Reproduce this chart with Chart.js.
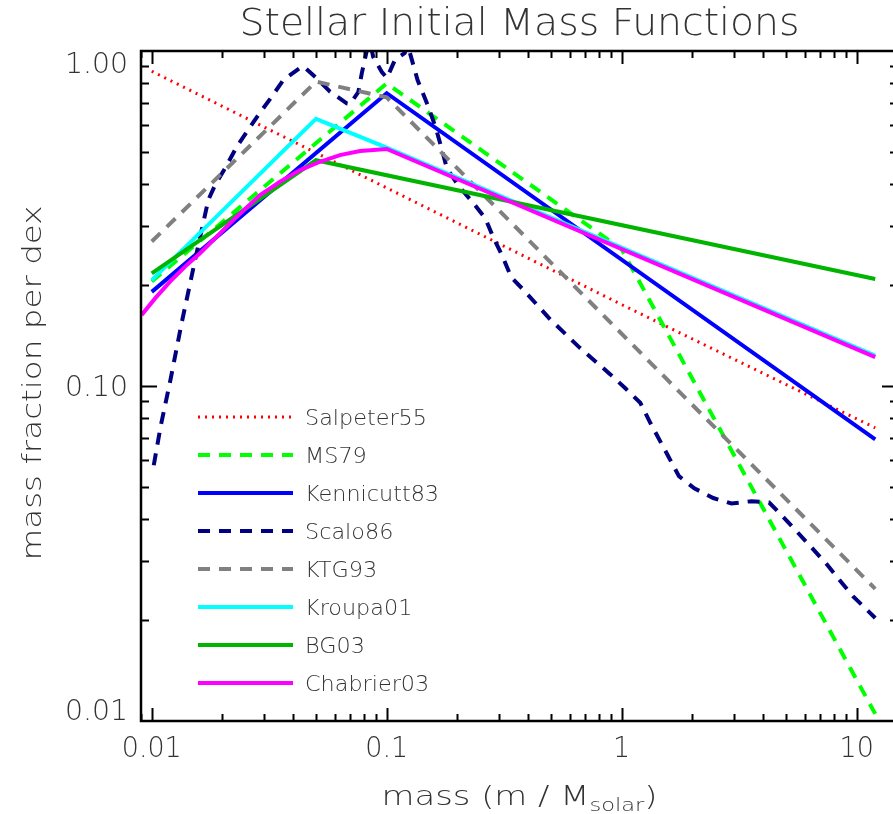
<!DOCTYPE html>
<html>
<head>
<meta charset="utf-8">
<script src="https://cdn.jsdelivr.net/npm/chart.js@4.4.0/dist/chart.umd.min.js"></script>
<style>
html, body { margin: 0; padding: 0; background: #fff; overflow: hidden; }
#contenitore { width: 905px; height: 814px; }
</style>
</head>
<body>
<div id="contenitore"><canvas id="grafico" width="905" height="814"></canvas></div>
<script>
// masse in masse solari, valori = frazione di massa per dex
var salpeterMass = [0.01, 1, 12];
var salpeterFrac = [0.87, 0.175, 0.075];

var ms79Mass = [0.01, 0.1, 1, 12];
var ms79Frac = [0.205, 0.80, 0.256, 0.0105];

var kennicuttMass = [0.01, 0.1, 12];
var kennicuttFrac = [0.191, 0.748, 0.0693];

var scaloMass = [0.0102, 0.0109, 0.0120, 0.0134, 0.0153, 0.0174, 0.0186, 0.0209, 0.0230, 0.0254,
    0.0284, 0.0324, 0.0363, 0.0428, 0.0442, 0.0503, 0.0574, 0.0676, 0.0698, 0.0757,
    0.0784, 0.0822, 0.085, 0.0876, 0.0952, 0.1002, 0.1084, 0.1193, 0.122, 0.1254,
    0.1353, 0.1494, 0.1618, 0.172, 0.1802, 0.201, 0.2334, 0.2627, 0.2841, 0.3125,
    0.339, 0.381, 0.4967, 0.6638, 0.8924, 1.034, 1.2, 1.327, 1.589, 1.753,
    2.037, 2.453, 2.932, 3.564, 4.241, 4.91, 5.58, 6.44, 7.45, 8.47, 9.64, 12];
var scaloFrac = [0.058, 0.0755, 0.104, 0.154, 0.238, 0.359, 0.398, 0.457, 0.518, 0.574,
    0.644, 0.730, 0.819, 0.890, 0.900, 0.829, 0.756, 0.698, 0.695, 0.754,
    0.860, 1.0, 1.06, 0.96, 0.867, 0.831, 0.940, 0.986, 1.04, 0.99,
    0.819, 0.690, 0.589, 0.506, 0.447, 0.398, 0.352, 0.317, 0.278, 0.242,
    0.211, 0.194, 0.158, 0.130, 0.1085, 0.0986, 0.0891, 0.0774, 0.0612, 0.0538,
    0.0495, 0.0463, 0.0446, 0.0453, 0.0449, 0.0404, 0.0367, 0.0329, 0.0294, 0.0263, 0.0236, 0.0203];

var ktgMass = [0.01, 0.05, 0.1, 12];
var ktgFrac = [0.27, 0.81, 0.727, 0.0248];

var kroupaMass = [0.01, 0.05, 0.1, 12];
var kroupaFrac = [0.207, 0.627, 0.515, 0.1232];

var bgMass = [0.01, 0.05, 12];
var bgFrac = [0.217, 0.472, 0.2086];

var chabrierMass = [0.00906, 0.01033, 0.01196, 0.01386, 0.01605, 0.01891, 0.02224, 0.02891, 0.03516,
    0.0428, 0.052, 0.0632, 0.077, 0.1, 12];
var chabrierFrac = [0.163, 0.1826, 0.2048, 0.2272, 0.249, 0.2792, 0.313, 0.3715, 0.407,
    0.441, 0.467, 0.489, 0.503, 0.510, 0.1220];

var xTicks = [0.01, 0.1, 1, 10];
var xTickLabels = ['0.01', '0.1', '1', '10'];
var yTicks = [0.01, 0.1, 1];
var yTickLabels = ['0.01', '0.10', '1.00'];

function puntiDa(masse, valori) {
    var punti = [];
    for (var i = 0; i < masse.length; i++) {
        punti.push({x: masse[i], y: valori[i]});
    }
    return punti;
}

var FONT = '"DejaVu Sans", sans-serif';
var PESO = '200 ';

function fattore(ctx, testo, size, larghezza) {
    ctx.font = PESO + size + 'px ' + FONT;
    return larghezza / ctx.measureText(testo).width;
}

function scritta(ctx, testo, x, y, size, sx, align) {
    ctx.save();
    ctx.font = PESO + size + 'px ' + FONT;
    var w = ctx.measureText(testo).width * sx;
    var x0 = x;
    if (align === 'center') x0 = x - w / 2;
    if (align === 'right') x0 = x - w;
    ctx.translate(x0, y);
    ctx.scale(sx, 1);
    ctx.textAlign = 'left';
    ctx.textBaseline = 'alphabetic';
    ctx.fillText(testo, 0, 0);
    ctx.restore();
    return w;
}

var cornice = {
    id: 'cornice',
    afterDatasetsDraw: function (chart) {
        var ctx = chart.ctx;
        var a = chart.chartArea;
        var xs = chart.scales.x;
        var ys = chart.scales.y;
        ctx.save();
        ctx.fillStyle = '#333';
        ctx.strokeStyle = '#000';

        // tacche
        ctx.lineWidth = 2;
        ctx.beginPath();
        for (var e = -3; e <= 1; e++) {
            for (var k = 1; k <= 9; k++) {
                var v = k * Math.pow(10, e);
                if (v <= xs.min || v >= xs.max) continue;
                var px = Math.round(xs.getPixelForValue(v)) + 0.5;
                var lung = k === 1 ? 13 : 7;
                ctx.moveTo(px, a.bottom); ctx.lineTo(px, a.bottom - lung);
                ctx.moveTo(px, a.top); ctx.lineTo(px, a.top + lung);
            }
        }
        for (var e2 = -2; e2 <= 0; e2++) {
            for (var k2 = 1; k2 <= 9; k2++) {
                var w = k2 * Math.pow(10, e2);
                if (w <= ys.min || w >= ys.max) continue;
                var py = Math.round(ys.getPixelForValue(w)) + 0.5;
                var l2 = k2 === 1 ? 16 : 8;
                ctx.moveTo(a.left, py); ctx.lineTo(a.left + l2, py);
                ctx.moveTo(a.right, py); ctx.lineTo(a.right - l2, py);
            }
        }
        ctx.stroke();
        ctx.lineWidth = 2.5;
        ctx.strokeRect(a.left, a.top, a.right - a.left, a.bottom - a.top);

        // etichette assi
        var sxY = fattore(ctx, '1.00', 28, 63);
        for (var i = 0; i < yTicks.length; i++) {
            var yy = ys.getPixelForValue(yTicks[i]) + 10;
            yy = Math.max(a.top + 22, Math.min(a.bottom - 1, yy));
            scritta(ctx, yTickLabels[i], 128, yy, 28, sxY, 'right');
        }
        var sxX = fattore(ctx, '0.01', 28, 60);
        for (var j = 0; j < xTicks.length; j++) {
            scritta(ctx, xTickLabels[j], xs.getPixelForValue(xTicks[j]), 757, 28, sxX, 'center');
        }

        // titolo
        var tit = 'Stellar Initial Mass Functions';
        scritta(ctx, tit, (a.left + a.right) / 2, 35, 37, fattore(ctx, tit, 37, 560), 'center');

        // titolo asse y
        var ty = 'mass fraction per dex';
        ctx.save();
        ctx.translate(41, 383);
        ctx.rotate(-Math.PI / 2);
        scritta(ctx, ty, 0, 0, 27, fattore(ctx, ty, 27, 355), 'center');
        ctx.restore();

        // titolo asse x con pedice
        var p1 = 'mass (m / M', p2 = 'solar', p3 = ')';
        ctx.font = PESO + '27px ' + FONT;
        var w1 = ctx.measureText(p1).width, w3 = ctx.measureText(p3).width;
        ctx.font = PESO + '18px ' + FONT;
        var w2 = ctx.measureText(p2).width;
        var sxT = 276 / (w1 + w2 + w3);
        var x0 = (a.left + a.right) / 2 - 138;
        x0 += scritta(ctx, p1, x0, 805, 27, sxT, 'left');
        x0 += scritta(ctx, p2, x0, 811, 18, sxT, 'left');
        scritta(ctx, p3, x0, 805, 27, sxT, 'left');

        // legenda
        var sxL = fattore(ctx, 'Salpeter55', 21, 122);
        chart.data.datasets.forEach(function (ds, n) {
            var yl = 417 + 38 * n;
            ctx.save();
            ctx.strokeStyle = ds.borderColor;
            ctx.lineWidth = ds.borderWidth;
            ctx.setLineDash(ds.borderDash);
            ctx.beginPath();
            ctx.moveTo(198, yl);
            ctx.lineTo(293, yl);
            ctx.stroke();
            ctx.restore();
            scritta(ctx, ds.label, 305, yl + 8, 21, sxL, 'left');
        });
        ctx.restore();
    }
};

function serie(nome, masse, valori, colore, spessore, tratto, ordine) {
    return {
        label: nome,
        data: puntiDa(masse, valori),
        borderColor: colore,
        borderWidth: spessore,
        borderDash: tratto,
        pointRadius: 0,
        tension: 0,
        fill: false,
        clip: 0,
        order: ordine
    };
}

var ctx = document.getElementById('grafico');
var chart = new Chart(ctx, {
    type: 'line',
    data: {
        datasets: [
            serie('Salpeter55', salpeterMass, salpeterFrac, '#ff0000', 3, [2, 5], 8),
            serie('MS79', ms79Mass, ms79Frac, '#00ff00', 4, [12, 9], 7),
            serie('Kennicutt83', kennicuttMass, kennicuttFrac, '#0000ff', 4, [], 6),
            serie('Scalo86', scaloMass, scaloFrac, '#000080', 4, [12, 9], 5),
            serie('KTG93', ktgMass, ktgFrac, '#808080', 4, [12, 9], 4),
            serie('Kroupa01', kroupaMass, kroupaFrac, '#00ffff', 4, [], 3),
            serie('BG03', bgMass, bgFrac, '#00b400', 4, [], 2),
            serie('Chabrier03', chabrierMass, chabrierFrac, '#ff00ff', 4, [], 1)
        ]
    },
    options: {
        responsive: false,
        animation: false,
        events: [],
        layout: {padding: {left: 141, right: 7, top: 51, bottom: 93}},
        scales: {
            x: {type: 'logarithmic', min: 0.009, max: 15, display: false},
            y: {type: 'logarithmic', min: 0.01, max: 1, display: false}
        },
        plugins: {
            legend: {display: false},
            tooltip: {enabled: false},
            title: {display: false}
        }
    },
    plugins: [cornice]
});
</script>
</body>
</html>
